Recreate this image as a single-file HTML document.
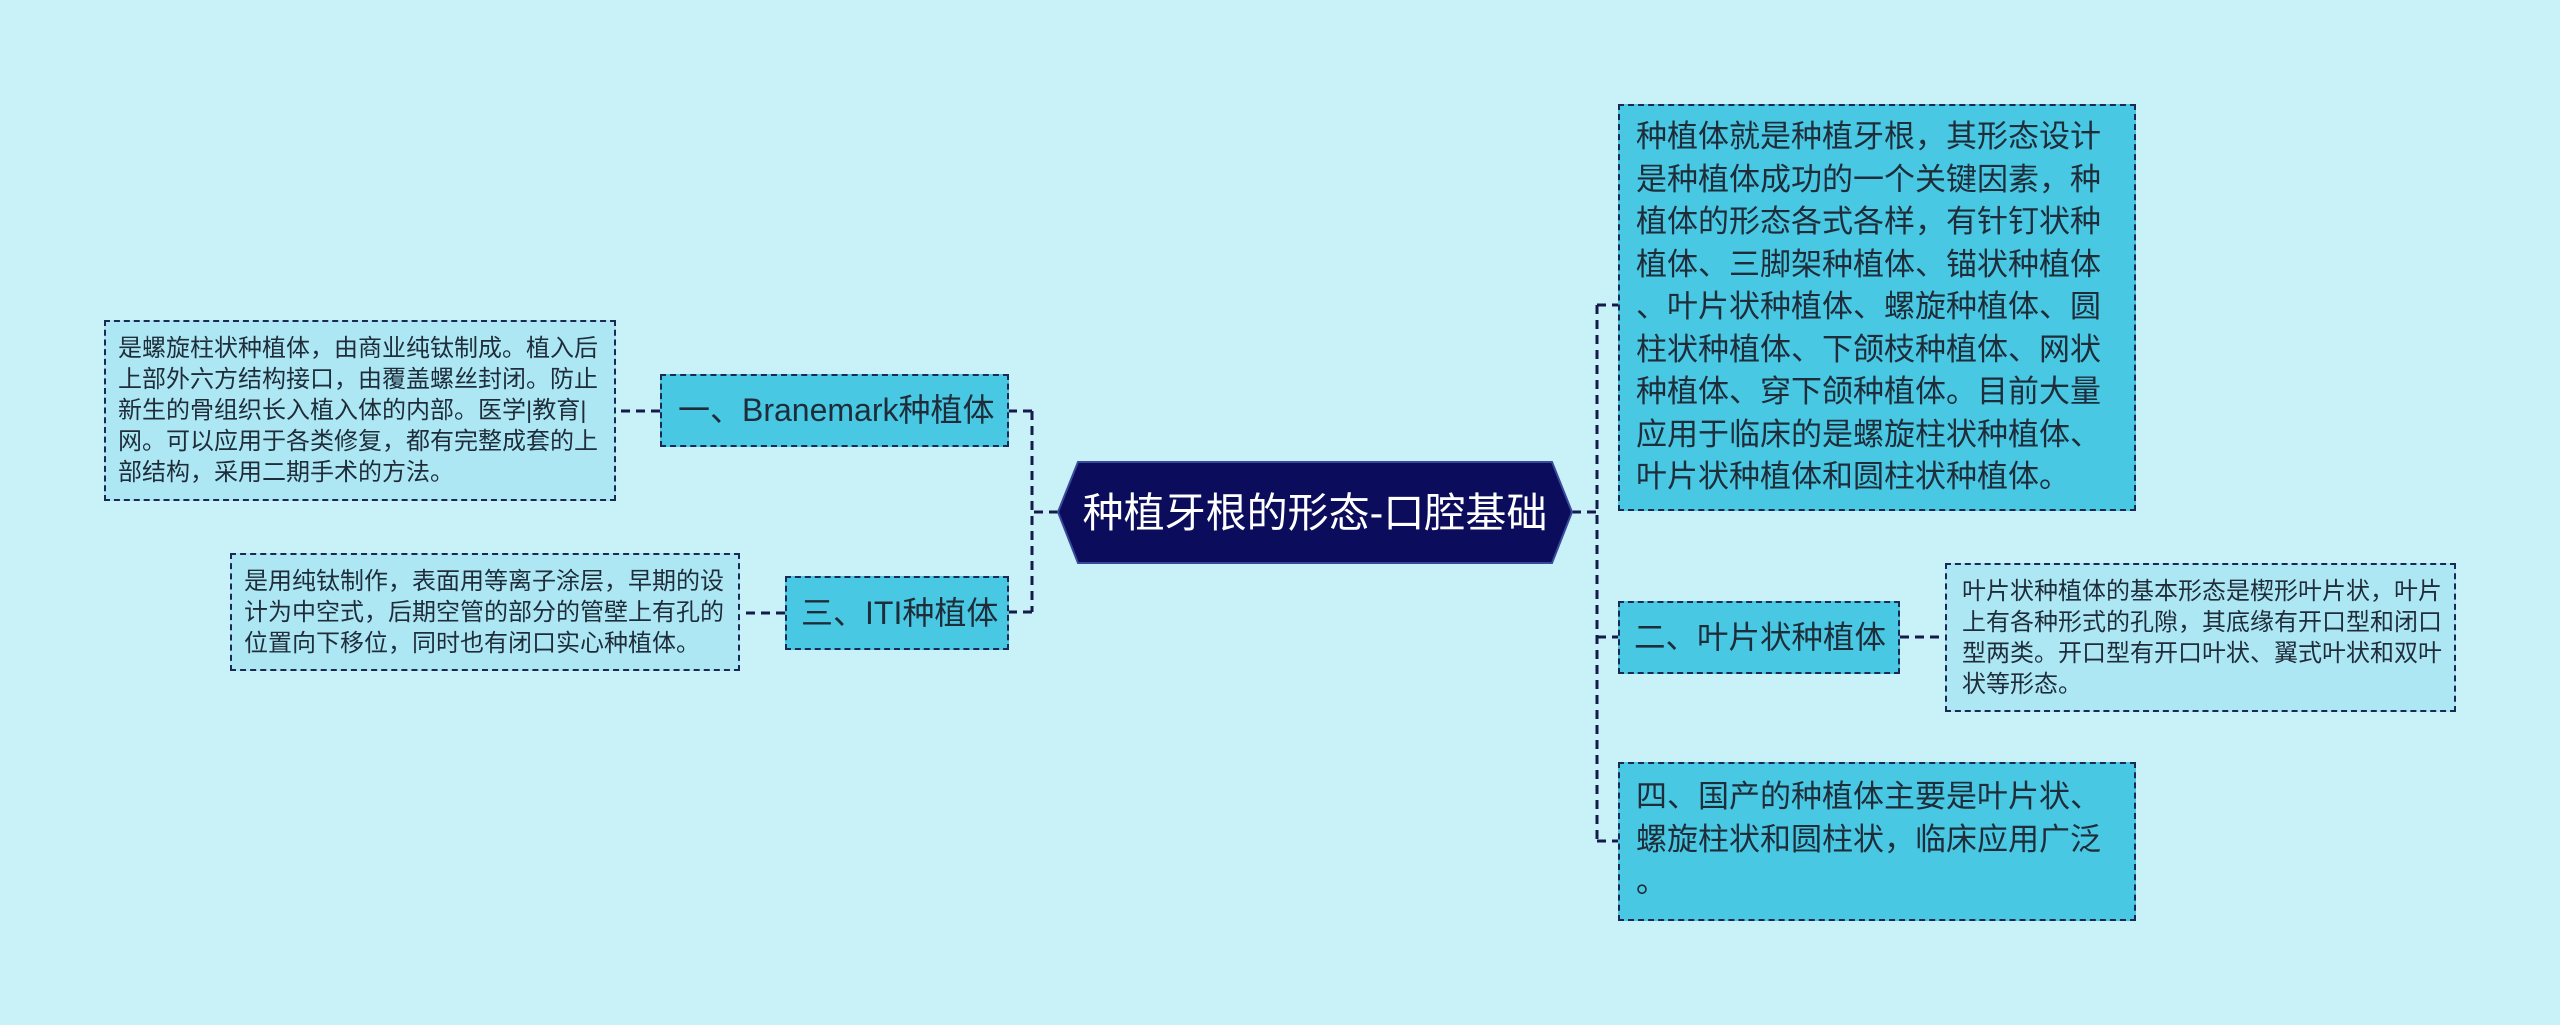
<!DOCTYPE html>
<html><head><meta charset="utf-8"><style>
body{margin:0;width:2560px;height:1025px;background:#c9f1f8;position:relative;overflow:hidden;font-family:"Liberation Sans","Noto Sans CJK SC",sans-serif;}
.b{position:absolute;box-sizing:border-box;border:2px dashed #1a2a55;color:#1f2d3a;white-space:nowrap;}
.m{background:#48c8e2;}
.d{background:#aee7f4;}
svg{position:absolute;left:0;top:0;}
</style></head><body>
<svg width="2560" height="1025">
<g stroke="#141a4a" stroke-width="3" fill="none" stroke-dasharray="9,6">
<path d="M1058 512 H1032 M1032 411 V612 M1032 411 H1009 M1032 612 H1009"/>
<path d="M660 411 H616 M785 613 H740"/>
<path d="M1572 512 H1597 M1597 305 V841 M1597 305 H1618 M1597 637 H1618 M1597 841 H1618"/>
<path d="M1900 637 H1945"/>
</g>
<polygon points="1058,512 1078,462 1552,462 1572,512 1552,563 1078,563" fill="#0b0c5c" stroke="#3a4a9a" stroke-width="2"/>
<text x="1315" y="527" fill="#fff" font-size="41" text-anchor="middle" font-family="Liberation Sans, Noto Sans CJK SC, sans-serif">种植牙根的形态-口腔基础</text>
</svg>
<div class="b m" style="left:1618px;top:104px;width:518px;height:407px;font-size:31px;line-height:42.5px;padding:10px 16px;">种植体就是种植牙根，其形态设计<br>是种植体成功的一个关键因素，种<br>植体的形态各式各样，有针钉状种<br>植体、三脚架种植体、锚状种植体<br>、叶片状种植体、螺旋种植体、圆<br>柱状种植体、下颌枝种植体、网状<br>种植体、穿下颌种植体。目前大量<br>应用于临床的是螺旋柱状种植体、<br>叶片状种植体和圆柱状种植体。</div>
<div class="b m" style="left:1618px;top:601px;width:282px;height:73px;font-size:31.5px;line-height:69px;padding-left:14px;">二、叶片状种植体</div>
<div class="b d" style="left:1945px;top:563px;width:511px;height:149px;font-size:24px;line-height:31px;padding:11px 15px;">叶片状种植体的基本形态是楔形叶片状，叶片<br>上有各种形式的孔隙，其底缘有开口型和闭口<br>型两类。开口型有开口叶状、翼式叶状和双叶<br>状等形态。</div>
<div class="b m" style="left:1618px;top:762px;width:518px;height:159px;font-size:31px;line-height:42.5px;padding:12px 16px;">四、国产的种植体主要是叶片状、<br>螺旋柱状和圆柱状，临床应用广泛<br>。</div>
<div class="b m" style="left:660px;top:374px;width:349px;height:73px;font-size:32px;line-height:69px;padding-left:16px;">一、Branemark种植体</div>
<div class="b d" style="left:104px;top:320px;width:512px;height:181px;font-size:24px;line-height:31px;padding:11px 12px;">是螺旋柱状种植体，由商业纯钛制成。植入后<br>上部外六方结构接口，由覆盖螺丝封闭。防止<br>新生的骨组织长入植入体的内部。医学|教育|<br>网。可以应用于各类修复，都有完整成套的上<br>部结构，采用二期手术的方法。</div>
<div class="b m" style="left:785px;top:576px;width:224px;height:74px;font-size:32px;line-height:70px;padding-left:14px;">三、ITI种植体</div>
<div class="b d" style="left:230px;top:553px;width:510px;height:118px;font-size:24px;line-height:31px;padding:11px 12px;">是用纯钛制作，表面用等离子涂层，早期的设<br>计为中空式，后期空管的部分的管壁上有孔的<br>位置向下移位，同时也有闭口实心种植体。</div>
</body></html>
